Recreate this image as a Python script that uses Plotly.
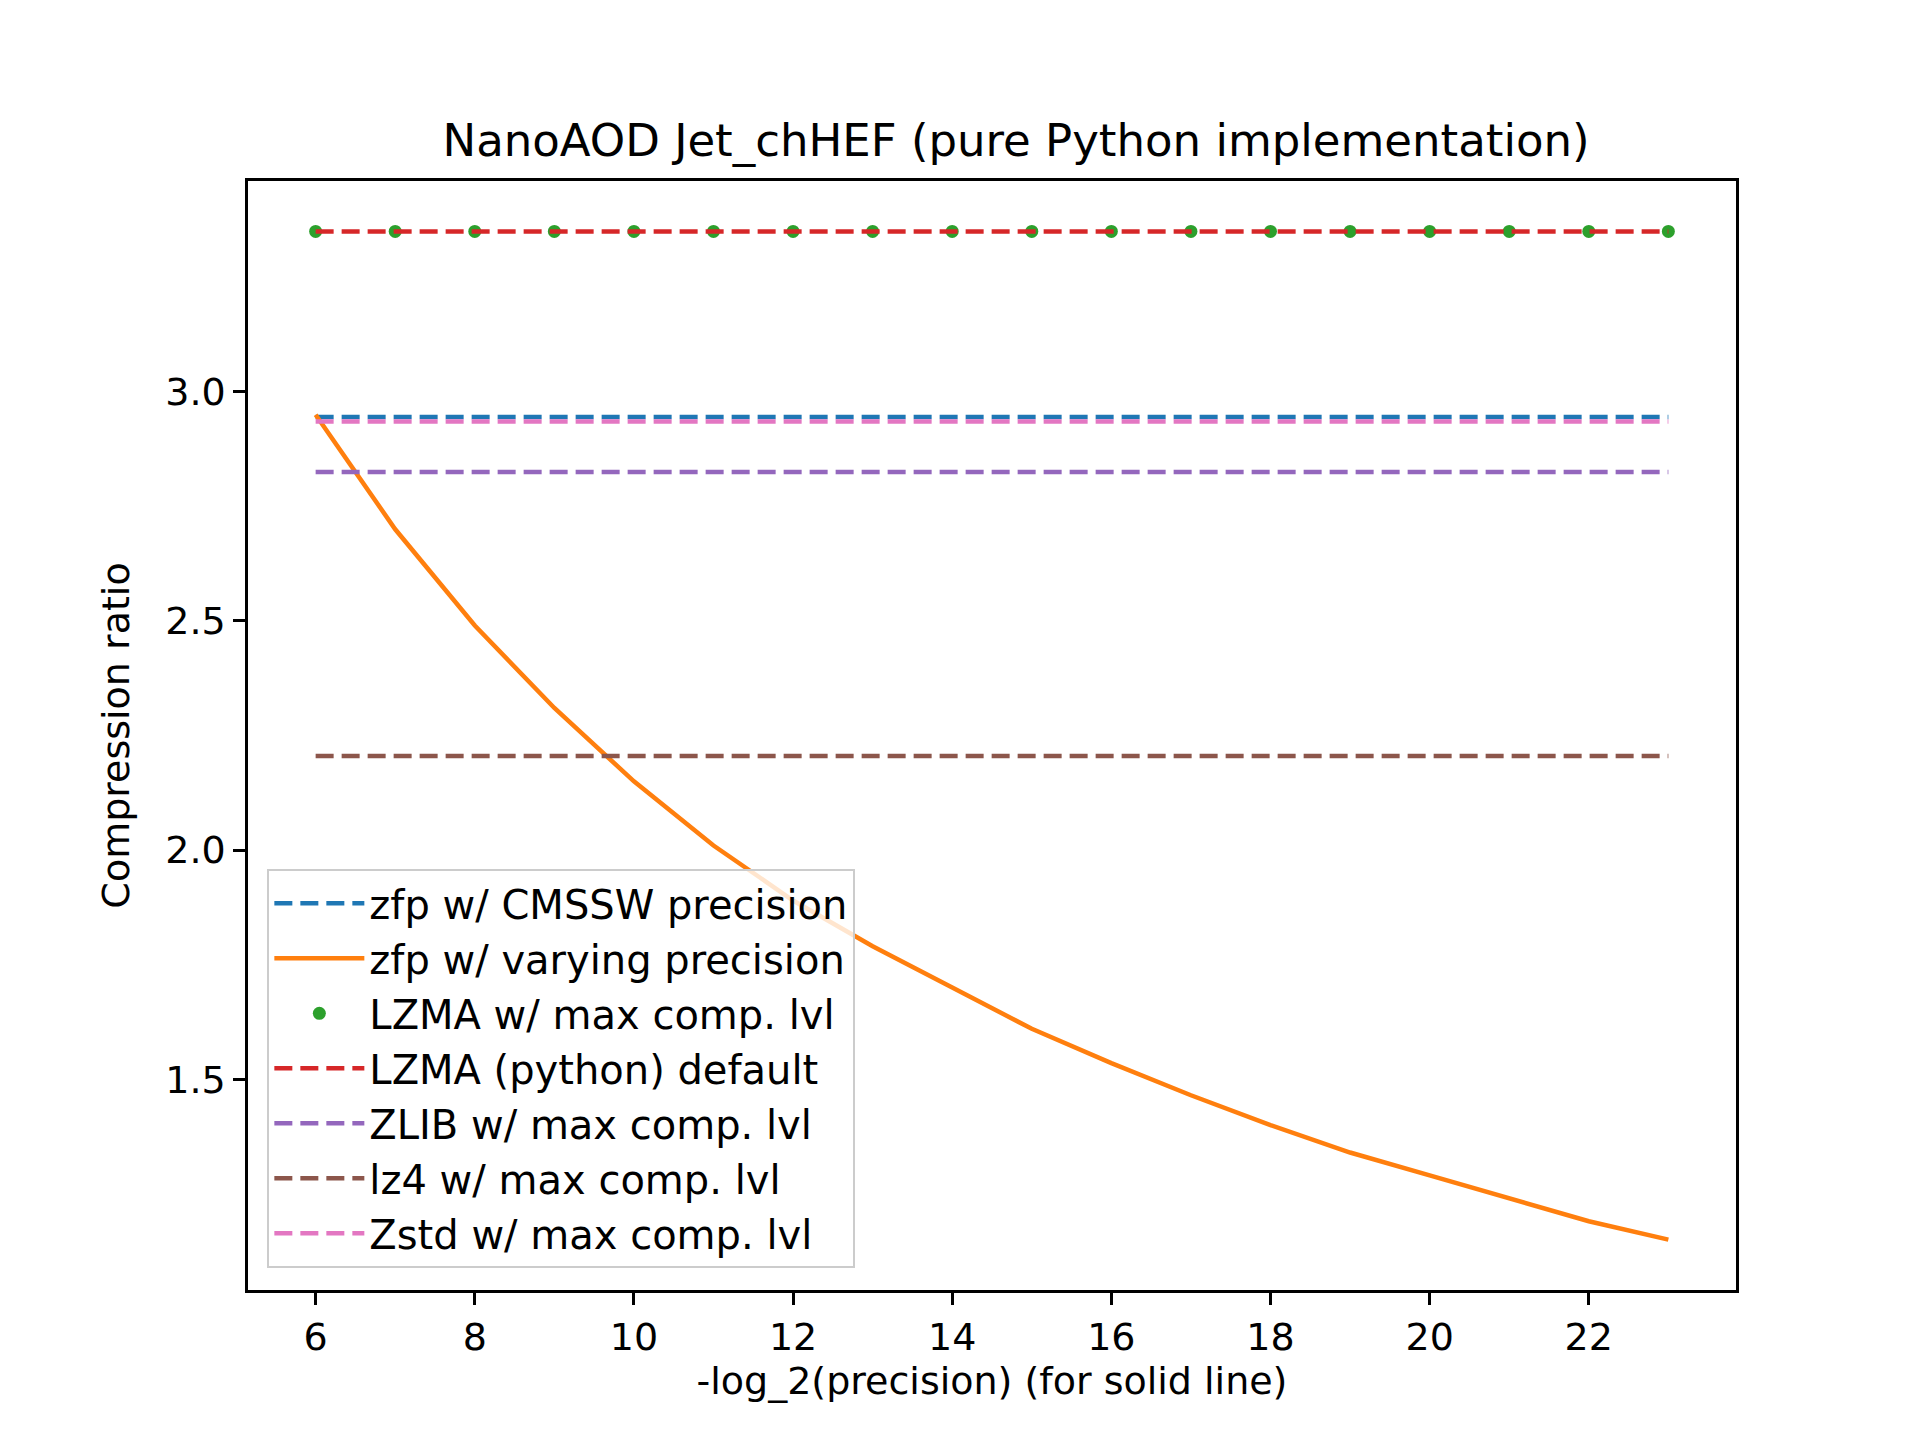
import plotly.graph_objects as go

x = list(range(6, 24))
zfp_varying = [2.95, 2.70, 2.49, 2.31, 2.15, 2.01, 1.89, 1.79, 1.70, 1.61,
               1.535, 1.465, 1.40, 1.34, 1.29, 1.24, 1.19, 1.15]
zfp_cmssw = 2.945
lzma_max = 3.35
lzma_default = 3.35
zlib_max = 2.825
lz4_max = 2.205
zstd_max = 2.935

fig = go.Figure()


def hline(val, name, color):
    fig.add_trace(go.Scatter(x=x, y=[val] * len(x), mode="lines", name=name,
                             line=dict(color=color, width=4.5, dash="18px,8px")))


hline(zfp_cmssw, "zfp w/ CMSSW precision", "#1f77b4")
fig.add_trace(go.Scatter(x=x, y=zfp_varying, mode="lines", name="zfp w/ varying precision",
                         line=dict(color="#ff7f0e", width=4.5)))
fig.add_trace(go.Scatter(x=x, y=[lzma_max] * len(x), mode="markers", name="LZMA w/ max comp. lvl",
                         marker=dict(color="#2ca02c", size=13)))
hline(lzma_default, "LZMA (python) default", "#d62728")
hline(zlib_max, "ZLIB w/ max comp. lvl", "#9467bd")
hline(lz4_max, "lz4 w/ max comp. lvl", "#8c564b")
hline(zstd_max, "Zstd w/ max comp. lvl", "#e377c2")

axis = dict(showgrid=False, zeroline=False, showline=True, linecolor="black", linewidth=2.5,
            mirror=True, ticks="outside", ticklen=12, tickwidth=2.5, tickcolor="black",
            tickfont=dict(size=38, color="black"))

fig.update_layout(
    width=1920, height=1440,
    paper_bgcolor="white", plot_bgcolor="white",
    font=dict(family="DejaVu Sans", color="black"),
    title=dict(text="NanoAOD Jet_chHEF (pure Python implementation)", x=0.525, xanchor="center",
               y=0.908, yanchor="middle", font=dict(size=45)),
    margin=dict(l=240, r=192, t=173, b=158),
    xaxis=dict(axis, range=[5.15, 23.85], tickvals=list(range(6, 24, 2)),
               title=dict(text="-log_2(precision) (for solid line)", font=dict(size=38), standoff=8)),
    yaxis=dict(axis, range=[1.04, 3.46], tickvals=[1.5, 2.0, 2.5, 3.0], tickformat=".1f",
               title=dict(text="Compression ratio", font=dict(size=38), standoff=24)),
    legend=dict(x=0.013, y=0.02, xanchor="left", yanchor="bottom", bgcolor="rgba(255,255,255,0.8)",
                bordercolor="#cccccc", borderwidth=2, font=dict(size=40), itemwidth=90,
                tracegroupgap=0),
    showlegend=True,
)

fig.write_html("out.html")
